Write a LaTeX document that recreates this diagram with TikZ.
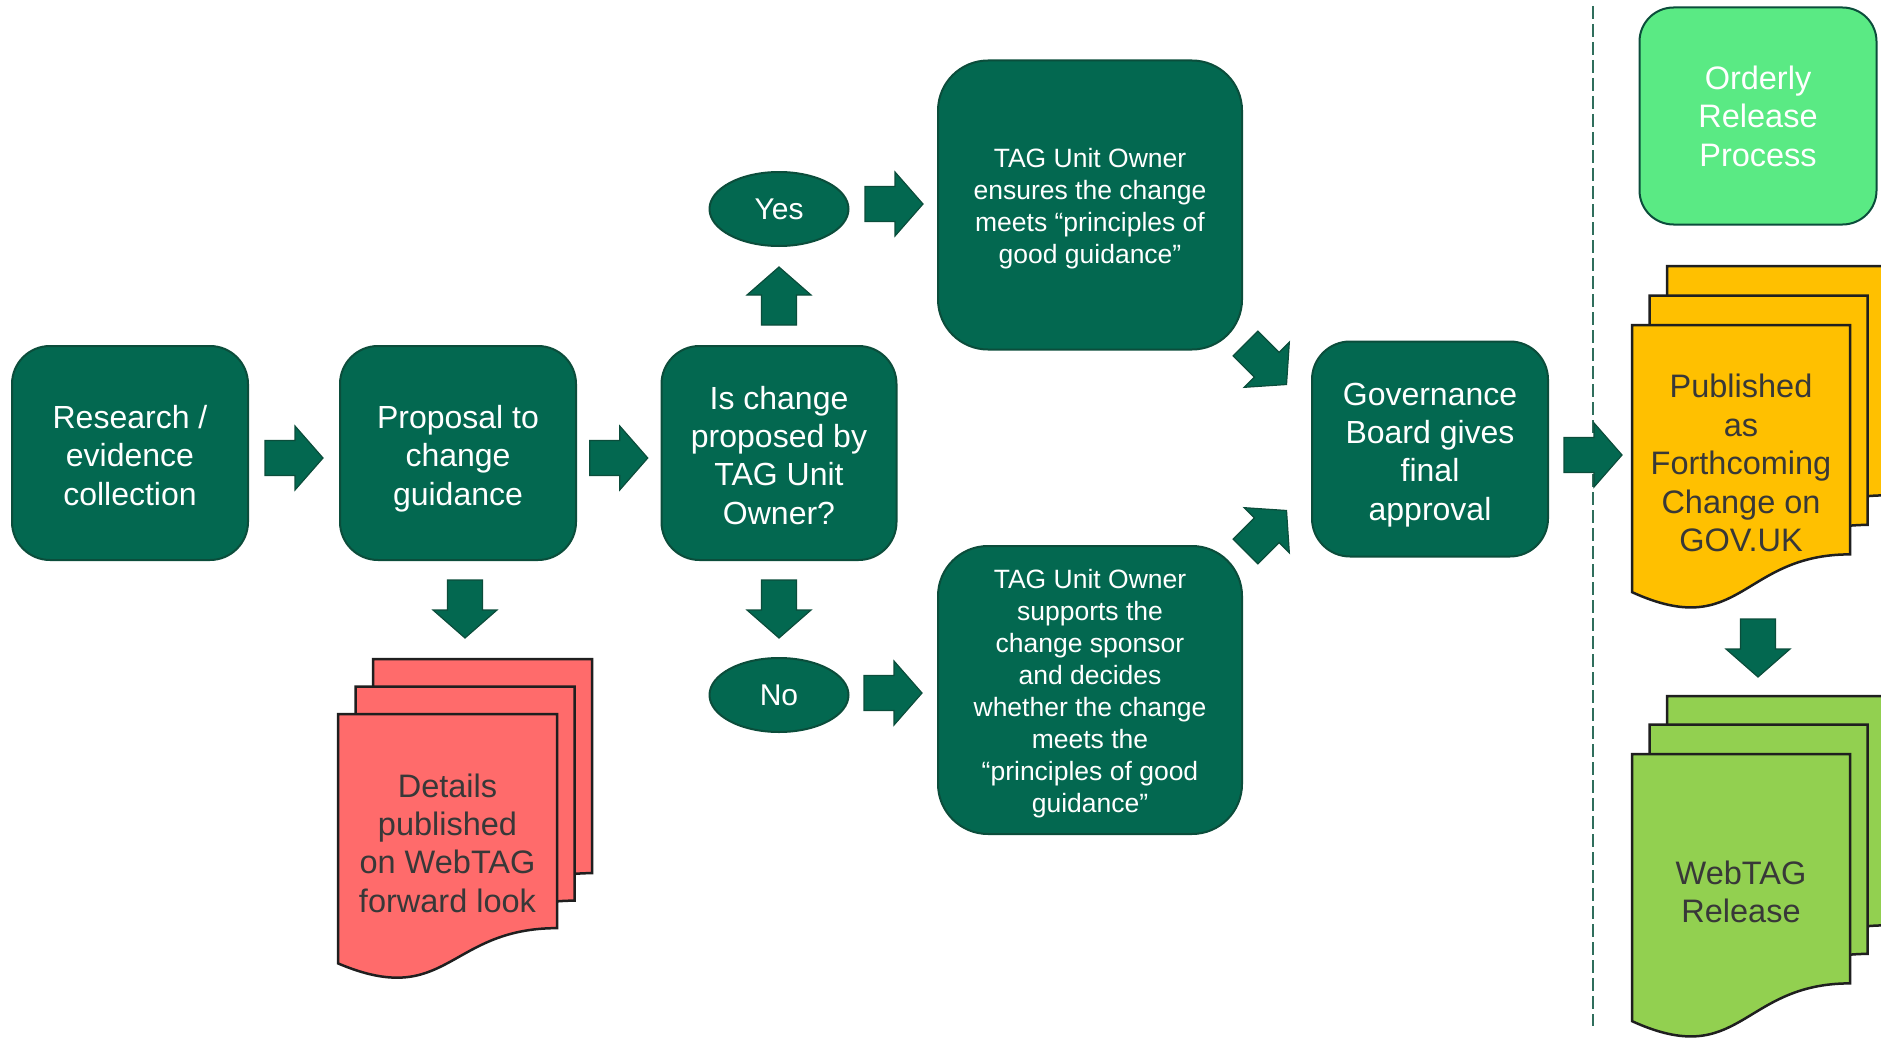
\documentclass[tikz,border=0pt]{standalone}
\usepackage{fontspec}
\setmainfont{Liberation Sans}
\usetikzlibrary{calc,shapes.geometric}
\definecolor{dkg}{HTML}{036850}
\definecolor{bdr}{HTML}{0B4D3B}
\definecolor{redpg}{HTML}{FF6B6B}
\definecolor{yelpg}{HTML}{FFC000}
\definecolor{grnpg}{HTML}{92D050}
\definecolor{orderly}{HTML}{5AEA84}
\definecolor{doctext}{HTML}{383838}
\definecolor{dashcol}{HTML}{2F6E5C}
\tikzset{
  greenbox/.style={draw=bdr, line width=2pt, fill=dkg, rounded corners=38pt,
    text=white, inner sep=0pt,
    font=\fontsize{32}{38.4}\selectfont},
  tagbox/.style={draw=bdr, line width=2pt, fill=dkg, rounded corners=50pt,
    text=white, inner sep=0pt,
    font=\fontsize{26.5}{32}\selectfont},
  oval/.style={ellipse, draw=bdr, line width=2pt, fill=dkg, text=white,
    inner sep=0pt, minimum width=139pt, minimum height=74pt,
    font=\fontsize{30}{36}\selectfont},
  arrowsty/.style={fill=dkg, draw=bdr, line width=1.2pt},
  pagesty/.style={draw=black!88, line width=2.5pt, line join=miter},
  doclabel/.style={text=doctext, align=center, inner sep=0pt,
    font=\fontsize{32.5}{38.4}\selectfont}
}
% centred lines with uniform line boxes, lowered by #1 without changing the box size
\newcommand{\boxtext}[2]{\raisebox{-#1}[\height][\depth]{\begin{tabular}{@{}c@{}}#2\end{tabular}}}
% block arrow: #1 position, #2 rotation
\newcommand{\blockarr}[2]{%
  \begin{scope}[shift={#1}, rotate=#2]
    \filldraw[arrowsty] (-29,-17.5) -- (1,-17.5) -- (1,-32) -- (29,0)
      -- (1,32) -- (1,17.5) -- (-29,17.5) -- cycle;
  \end{scope}}
% document page: #1 x0, #2 top, #3 width, #4 height, #5 fill
\newcommand{\docpage}[5]{%
  \filldraw[pagesty, fill=#5] (#1,#2) -- ({#1+#3},#2) -- ({#1+#3},{#2+0.802*#4})
    .. controls ({#1+0.5*#3},{#2+0.802*#4}) and ({#1+0.5*#3},{#2+1.108*#4})
    .. (#1,{#2+0.934*#4}) -- cycle;}
\begin{document}
\begin{tikzpicture}[x=1pt,y=-1pt]
\useasboundingbox (0,0) rectangle (1881,1038);

% main boxes
\node[greenbox, minimum width=236pt, minimum height=214pt] (res) at (130,453)
  {\boxtext{6pt}{Research /\\evidence\\collection}};
\node[greenbox, minimum width=236pt, minimum height=214pt] (prop) at (458,453)
  {\boxtext{6pt}{Proposal to\\change\\guidance}};
\node[greenbox, minimum width=235pt, minimum height=214pt] (isch) at (779,453)
  {\boxtext{6pt}{Is change\\proposed by\\TAG Unit\\Owner?}};
\node[oval] (yes) at (779,209) {Yes};
\node[oval] (no) at (779,695) {No};
\node[tagbox, minimum width=304pt, minimum height=289pt] (tag1) at (1090,205)
  {\boxtext{4pt}{TAG Unit Owner\\ensures the change\\meets “principles of\\good guidance”}};
\node[tagbox, minimum width=304pt, minimum height=288pt] (tag2) at (1090,690)
  {\boxtext{4pt}{TAG Unit Owner\\supports the\\change sponsor\\and decides\\whether the change\\meets the\\“principles of good\\guidance”}};
\node[greenbox, minimum width=236pt, minimum height=215pt] (gov) at (1430,449)
  {\boxtext{6pt}{Governance\\Board gives\\final\\approval}};
\node[draw=bdr, line width=2pt, fill=orderly, rounded corners=34pt,
  text=white, align=center, inner sep=0pt, minimum width=237pt,
  minimum height=217pt, font=\fontsize{32.5}{38.4}\selectfont] (ord) at (1758,116)
  {Orderly\\Release\\Process};

% dashed separator
\coordinate (dtop) at (1593,6);
\coordinate (dbot) at (1593,1026);
\draw[dashcol, line width=1.5pt, dash pattern=on 13pt off 5pt] (dtop) -- (dbot);

% red document stack
\docpage{373}{659}{219}{267}{redpg}
\docpage{355.5}{686.5}{219}{267}{redpg}
\docpage{338}{714}{219}{267}{redpg}
\node[doclabel] (details) at (447.5,843)
  {Details\\published\\on WebTAG\\forward look};

% yellow document stack
\docpage{1667}{266}{218}{286}{yelpg}
\docpage{1649.5}{295.5}{218}{286}{yelpg}
\docpage{1632}{325}{218}{286}{yelpg}
\node[doclabel] (pub) at (1741,463)
  {Published\\as\\Forthcoming\\Change on\\GOV.UK};

% green document stack
\docpage{1667}{696}{218}{286}{grnpg}
\docpage{1649.5}{724.5}{218}{286}{grnpg}
\docpage{1632}{754}{218}{286}{grnpg}
\node[doclabel] (rel) at (1741,892)
  {WebTAG\\Release};

% block arrows (connectors)
\blockarr{($(res.east)!0.5!(prop.west)+(0,5)$)}{0}
\blockarr{($(prop.east)!0.5!(isch.west)+(0,5)$)}{0}
\blockarr{($(isch.north)!0.5!(yes.south)$)}{90}
\blockarr{($(isch.south)!0.5!(no.north)$)}{-90}
\blockarr{(894,204)}{0}
\blockarr{(893,693)}{0}
\blockarr{(1266,364)}{-45}
\blockarr{(1266,531)}{45}
\blockarr{(1593,455)}{0}
\blockarr{(465,609)}{-90}
\blockarr{(1758,648)}{-90}
\end{tikzpicture}
\end{document}
